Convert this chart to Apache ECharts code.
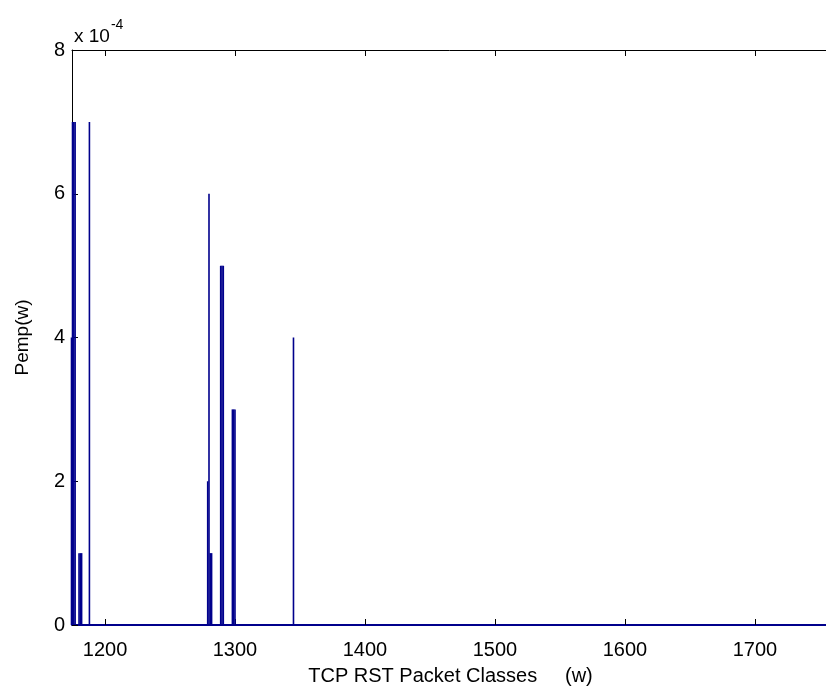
<!DOCTYPE html>
<html>
<head>
<meta charset="utf-8">
<script src="https://cdn.jsdelivr.net/npm/echarts@6/dist/echarts.min.js"></script>
<style>
html,body{margin:0;padding:0;background:#fff;}
#c{width:826px;height:688px;}
</style>
</head>
<body>
<div id="c"></div>
<script>
// Packet classes (w) and empirical probabilities Pemp(w)
var classes = [1174, 1175, 1176, 1177, 1180, 1181, 1182, 1188, 1279, 1280, 1281, 1282, 1289, 1290, 1291, 1298, 1299, 1300, 1345];
var pemp    = [4e-4, 7e-4, 7e-4, 7e-4, 1e-4, 1e-4, 1e-4, 7e-4, 2e-4, 6e-4, 1e-4, 1e-4, 5e-4, 5e-4, 5e-4, 3e-4, 3e-4, 3e-4, 4e-4];
var xTicks  = [1200, 1300, 1400, 1500, 1600, 1700];
var yTicks  = [0, 2e-4, 4e-4, 6e-4, 8e-4];
var xTitle = 'TCP RST Packet Classes     (w)';
var yTitle = 'Pemp(w)';

var xMin = 1174.6, xMax = 1757;
var barColor = '#00008c';
var font = '"Liberation Sans", Arial, sans-serif';

var data = classes.map(function (c, i) { return [c, pemp[i]]; });

var chart = echarts.init(document.getElementById('c'), null, {renderer: 'canvas'});
chart.setOption({
  animation: false,
  backgroundColor: '#ffffff',
  grid: {left: 72, right: -3, top: 50, bottom: 63, containLabel: false, outerBoundsMode: 'none'},
  xAxis: [{
    type: 'value', min: xMin, max: xMax, position: 'bottom',
    axisLine: {show: true, onZero: false, lineStyle: {color: barColor, width: 2}},
    axisTick: {show: true, inside: true, length: 6, customValues: xTicks, lineStyle: {color: '#000', width: 1}},
    axisLabel: {show: true, customValues: xTicks, color: '#000', fontFamily: font, fontSize: 20, margin: 15,
      formatter: function (v) { return String(v); }},
    splitLine: {show: false},
    name: xTitle, nameLocation: 'middle', nameGap: 41,
    nameTextStyle: {color: '#000', fontFamily: font, fontSize: 20}
  }, {
    type: 'value', min: xMin, max: xMax, position: 'top',
    axisLine: {show: true, onZero: false, lineStyle: {color: '#000', width: 1}},
    axisTick: {show: true, inside: true, length: 6, customValues: xTicks, lineStyle: {color: '#000'}},
    axisLabel: {show: false},
    splitLine: {show: false}
  }],
  yAxis: {
    type: 'value', min: 0, max: 8e-4, interval: 2e-4,
    axisLine: {show: true, lineStyle: {color: '#000', width: 1}},
    axisTick: {show: true, inside: true, length: 6, lineStyle: {color: '#000'}},
    axisLabel: {color: '#000', fontFamily: font, fontSize: 20, margin: 7,
      formatter: function (v) { return String(Math.round(v * 1e4)); }},
    splitLine: {show: false},
    name: yTitle, nameLocation: 'middle', nameGap: 40, nameRotate: 90,
    nameTextStyle: {color: '#000', fontFamily: font, fontSize: 19}
  },
  graphic: [{
    type: 'text', left: 74, top: 18,
    style: {
      text: '{a|x 10}{b|-4}',
      rich: {
        a: {fontFamily: font, fontSize: 19, fill: '#000', verticalAlign: 'bottom'},
        b: {fontFamily: font, fontSize: 14, fill: '#000', verticalAlign: 'top', padding: [0, 0, 14, 1]}
      }
    }
  }],
  series: [{
    type: 'bar', xAxisIndex: 0, data: data, barWidth: 1.6, clip: true,
    itemStyle: {color: barColor},
    emphasis: {disabled: true}
  }]
});
</script>
</body>
</html>
